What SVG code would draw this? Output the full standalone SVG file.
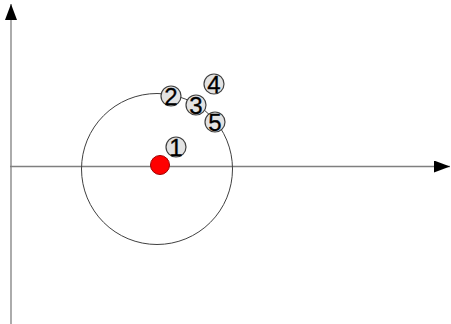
<svg xmlns="http://www.w3.org/2000/svg" width="451" height="324" viewBox="0 0 451 324">
<style>
.axis{stroke:#7f7f7f;stroke-width:1.3;fill:none}
.lbl circle{fill:#e3e3e3;stroke:#404040;stroke-width:1.2}
.lbl text{font-family:"Liberation Sans",Arial,sans-serif;font-size:24px;fill:#000;stroke:#000;stroke-width:0.3;text-anchor:middle}
</style>
<defs>
<marker id="ah" viewBox="0 0 16 12" refX="16" refY="6" markerWidth="16" markerHeight="12" markerUnits="userSpaceOnUse" orient="auto">
<path d="M0,0 L16,6 L0,12 Z" fill="#000"/>
</marker>
</defs>
<g id="connectors">
<line class="axis" x1="11" y1="324" x2="11" y2="4" marker-end="url(#ah)"/>
<line class="axis" x1="10" y1="166.5" x2="450" y2="166.5" marker-end="url(#ah)"/>
<circle cx="157" cy="169" r="75.5" fill="none" stroke="#404040" stroke-width="1"/>
</g>
<g id="origin"><circle cx="160" cy="165" r="9.5" fill="#ff0000" stroke="#a00000" stroke-width="1"/></g>
<g id="n1" class="lbl"><circle cx="176" cy="147" r="10"/><text x="176" y="155.5">1</text></g>
<g id="n2" class="lbl"><circle cx="171" cy="96" r="10"/><text x="171" y="104.5">2</text></g>
<g id="n3" class="lbl"><circle cx="196" cy="105" r="10"/><text x="196" y="113.5">3</text></g>
<g id="n4" class="lbl"><circle cx="214" cy="84" r="10"/><text x="214" y="92.5">4</text></g>
<g id="n5" class="lbl"><circle cx="215" cy="122" r="10"/><text x="215" y="130.5">5</text></g>
</svg>
